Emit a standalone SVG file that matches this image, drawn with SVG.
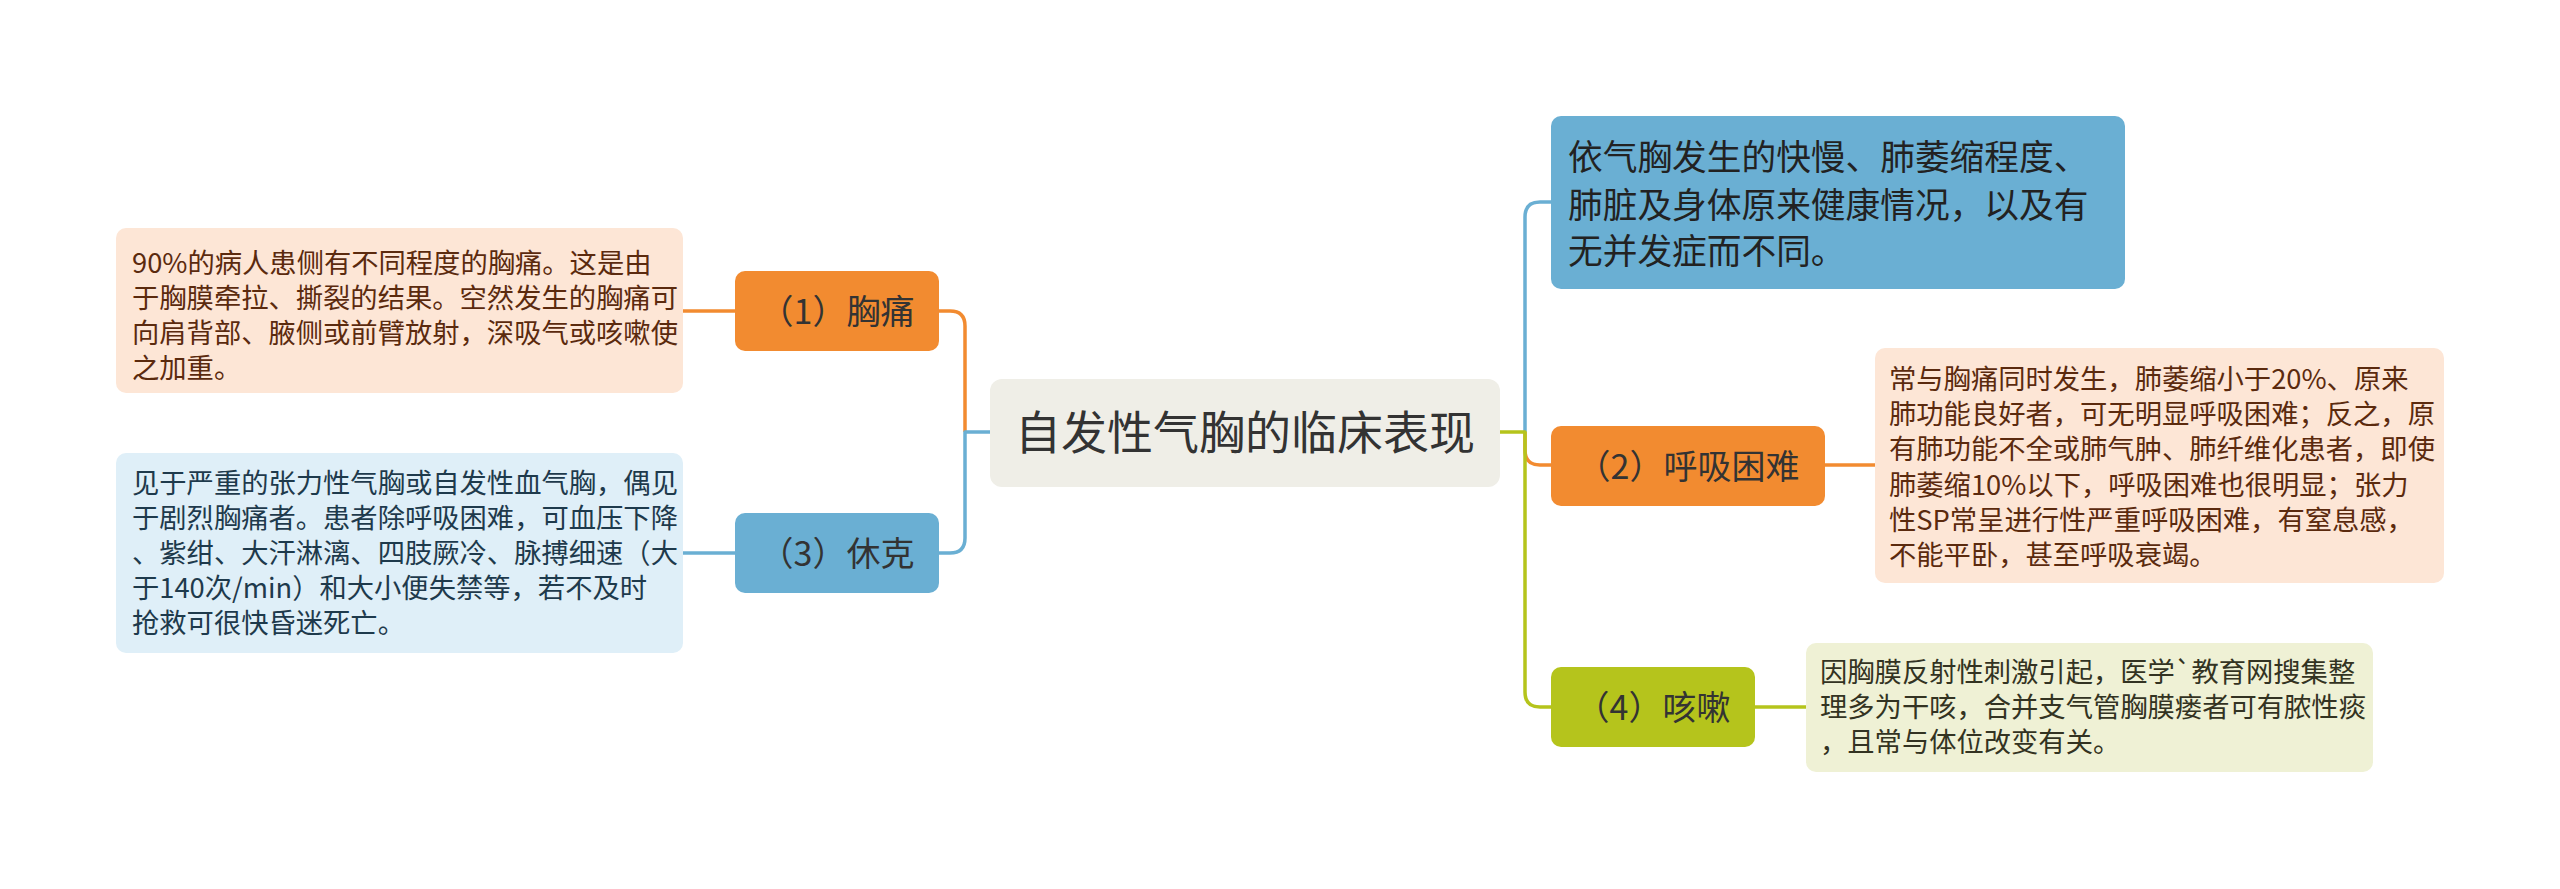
<svg xmlns="http://www.w3.org/2000/svg" width="2560" height="889" viewBox="0 0 2560 889">
<style>
text{font-family:"Noto Sans CJK SC","Noto Sans",sans-serif;}
.conn{fill:none;stroke-width:3.5;stroke-linecap:butt;stroke-linejoin:round;}
.o{stroke:#F28B30;} .b{stroke:#6AAFD3;} .g{stroke:#B5C41C;}
.root{fill:#EFEEE7;}
.n-o{fill:#F28B30;} .n-b{fill:#6AAFD3;} .n-g{fill:#B5C41C;}
.lbl{font-size:34px;fill:#333;text-anchor:middle;}
.t-peach{fill:#FDE6D6;} .t-blue{fill:#DFEFF8;} .t-green{fill:#EFF1D5;}
.tx{font-size:27.3px;}
.tx-peach{fill:#5B2A0E;} .tx-blue{fill:#1E3A4C;} .tx-green{fill:#333322;}
</style>
<rect width="2560" height="889" fill="#FFFFFF"/>
<g id="connectors">
  <path class="conn o" d="M965,432 V326 Q965,311 950,311 H935"/>
  <path class="conn b" d="M992,432 H965 V538 Q965,553 950,553 H935"/>
  <path class="conn b" d="M1525,432 V217 Q1525,202 1540,202 H1555"/>
  <path class="conn o" d="M1525,432 V450 Q1525,465 1540,465 H1555"/>
  <path class="conn g" d="M1498,432 H1525 V692 Q1525,707 1540,707 H1555"/>
  <path class="conn o" d="M739,311 H680"/>
  <path class="conn b" d="M739,553 H680"/>
  <path class="conn o" d="M1821,465 H1879"/>
  <path class="conn g" d="M1751,707 H1810"/>
</g>
<g id="root">
  <rect class="root" x="990" y="379" width="510" height="108" rx="12"/>
  <text x="1245" y="449" text-anchor="middle" font-size="46" fill="#333">自发性气胸的临床表现</text>
</g>
<g id="node-top">
  <rect class="n-b" x="1551" y="116" width="574" height="173" rx="10"/>
  <text font-size="34.7" fill="#222">
    <tspan x="1568" y="170">依气胸发生的快慢、肺萎缩程度、</tspan>
    <tspan x="1568" y="218">肺脏及身体原来健康情况，以及有</tspan>
    <tspan x="1568" y="264">无并发症而不同。</tspan>
  </text>
</g>
<g id="node-1">
  <rect class="n-o" x="735" y="271" width="204" height="80" rx="10"/>
  <text class="lbl" x="837" y="324">（1）胸痛</text>
</g>
<g id="node-1-text">
  <rect class="t-peach" x="116" y="228" width="567" height="165" rx="10"/>
  <text class="tx tx-peach">
    <tspan x="132" y="273">90%的病人患侧有不同程度的胸痛。这是由</tspan>
    <tspan x="132" y="308">于胸膜牵拉、撕裂的结果。空然发生的胸痛可</tspan>
    <tspan x="132" y="343">向肩背部、腋侧或前臂放射，深吸气或咳嗽使</tspan>
    <tspan x="132" y="378">之加重。</tspan>
  </text>
</g>
<g id="node-3">
  <rect class="n-b" x="735" y="513" width="204" height="80" rx="10"/>
  <text class="lbl" x="837" y="566">（3）休克</text>
</g>
<g id="node-3-text">
  <rect class="t-blue" x="116" y="453" width="567" height="200" rx="10"/>
  <text class="tx tx-blue">
    <tspan x="132" y="493">见于严重的张力性气胸或自发性血气胸，偶见</tspan>
    <tspan x="132" y="528">于剧烈胸痛者。患者除呼吸困难，可血压下降</tspan>
    <tspan x="132" y="563">、紫绀、大汗淋漓、四肢厥冷、脉搏细速（大</tspan>
    <tspan x="132" y="598">于140次/min）和大小便失禁等，若不及时</tspan>
    <tspan x="132" y="633">抢救可很快昏迷死亡。</tspan>
  </text>
</g>
<g id="node-2">
  <rect class="n-o" x="1551" y="426" width="274" height="80" rx="10"/>
  <text class="lbl" x="1688" y="479">（2）呼吸困难</text>
</g>
<g id="node-2-text">
  <rect class="t-peach" x="1875" y="348" width="569" height="235" rx="10"/>
  <text class="tx tx-peach">
    <tspan x="1889" y="389">常与胸痛同时发生，肺萎缩小于20%、原来</tspan>
    <tspan x="1889" y="424">肺功能良好者，可无明显呼吸困难；反之，原</tspan>
    <tspan x="1889" y="459">有肺功能不全或肺气肿、肺纤维化患者，即使</tspan>
    <tspan x="1889" y="495">肺萎缩10%以下，呼吸困难也很明显；张力</tspan>
    <tspan x="1889" y="530">性SP常呈进行性严重呼吸困难，有窒息感，</tspan>
    <tspan x="1889" y="565">不能平卧，甚至呼吸衰竭。</tspan>
  </text>
</g>
<g id="node-4">
  <rect class="n-g" x="1551" y="667" width="204" height="80" rx="10"/>
  <text class="lbl" x="1653" y="720">（4）咳嗽</text>
</g>
<g id="node-4-text">
  <rect class="t-green" x="1806" y="643" width="567" height="129" rx="10"/>
  <text class="tx tx-green">
    <tspan x="1820" y="682">因胸膜反射性刺激引起，医学`教育网搜集整</tspan>
    <tspan x="1820" y="717">理多为干咳，合并支气管胸膜瘘者可有脓性痰</tspan>
    <tspan x="1820" y="752">，且常与体位改变有关。</tspan>
  </text>
</g>
</svg>
